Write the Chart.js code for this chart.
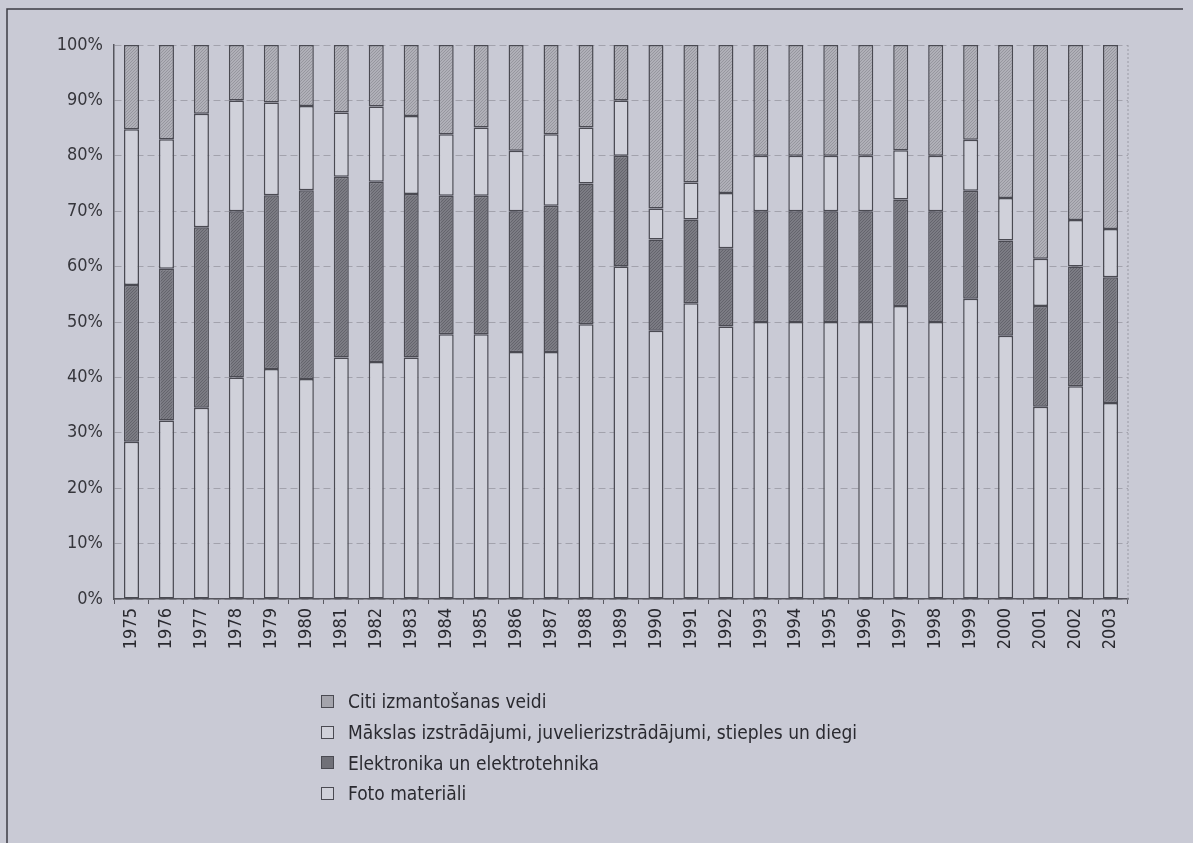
<!DOCTYPE html>
<html>
<head>
<meta charset="utf-8">
<script src="https://cdn.jsdelivr.net/npm/chart.js@4/dist/chart.umd.min.js"></script>
<style>
  body { margin: 0; background: #c9cad5; }
  #wrap { position: relative; width: 1193px; height: 843px; overflow: hidden; }
  #legend { position: absolute; left: 321px; top: 686px; font-family: 'Liberation Sans Narrow', 'DejaVu Sans Condensed', sans-serif; font-size: 19px; color: #2a2a30; }
  .row { height: 30.7px; display: flex; align-items: center; }
  .box { width: 11px; height: 11px; border: 1.5px solid #4a4a52; margin-right: 14px; }
</style>
</head>
<body>
<div id="wrap">
  <canvas id="chart" width="1193" height="843"></canvas>
  <div id="legend"></div>
</div>
<script>
// Years on the x axis
const years = ['1975', '1976', '1977', '1978', '1979', '1980', '1981', '1982', '1983', '1984',
  '1985', '1986', '1987', '1988', '1989', '1990', '1991', '1992', '1993', '1994',
  '1995', '1996', '1997', '1998', '1999', '2000', '2001', '2002', '2003'];

// Shares in percent, bottom of the stack first
const foto = [28.4, 32.2, 34.5, 40, 41.5, 39.7, 43.6, 42.8, 43.6, 47.8,
  47.8, 44.6, 44.6, 49.6, 60, 48.4, 53.4, 49.2, 50, 50,
  50, 50, 52.9, 50, 54.2, 47.5, 34.7, 38.4, 35.4];
const elektronika = [28.3, 27.4, 32.6, 30, 31.4, 34.1, 32.6, 32.5, 29.5, 25,
  25, 25.4, 26.4, 25.4, 20, 16.5, 15.1, 14.1, 20, 20,
  20, 20, 19.2, 20, 19.5, 17.2, 18.2, 21.6, 22.7];
const maksla = [28.1, 23.4, 20.5, 20, 16.7, 15.2, 11.6, 13.6, 14.1, 11.1,
  12.3, 10.9, 12.9, 10.1, 10, 5.6, 6.7, 10, 10, 10,
  10, 10, 8.9, 10, 9.2, 7.7, 8.5, 8.4, 8.7];
const citi = [15.2, 17.0, 12.4, 10, 10.4, 11.0, 12.2, 11.1, 12.8, 16.1,
  14.9, 19.1, 16.1, 14.9, 10, 29.5, 24.8, 26.7, 20, 20,
  20, 20, 19.0, 20, 17.1, 27.6, 38.6, 31.6, 33.2];

const yTicks = [0, 10, 20, 30, 40, 50, 60, 70, 80, 90, 100];

const FONT = "'Liberation Sans Narrow', 'DejaVu Sans Condensed', sans-serif";
const EDGE = '#4a4a52';

// Small stipple tile so the grey fills look like the printed screen
function stipple(a, b) {
  const c = document.createElement('canvas');
  c.width = 3; c.height = 3;
  const g = c.getContext('2d');
  g.fillStyle = a; g.fillRect(0, 0, 3, 3);
  g.fillStyle = b;
  g.fillRect(0, 0, 1, 1); g.fillRect(2, 1, 1, 1); g.fillRect(1, 2, 1, 1);
  return g.createPattern(c, 'repeat');
}

const ctx = document.getElementById('chart').getContext('2d');
const citiFill = stipple('#b0b0b8', '#96969e');
const elekFill = stipple('#7c7c84', '#64646c');
const lightFill = '#d0d1da';

// Page background, frame and dotted right edge of the plot
const frame = {
  id: 'frame',
  beforeDraw(chart) {
    const c = chart.ctx;
    c.save();
    c.fillStyle = '#c9cad5';
    c.fillRect(0, 0, chart.width, chart.height);
    c.strokeStyle = '#3c3c44';
    c.lineWidth = 1.5;
    c.beginPath();
    c.moveTo(7, 843); c.lineTo(7, 9); c.lineTo(1183, 9);
    c.stroke();
    c.restore();
  },
  afterDatasetsDraw(chart) {
    const a = chart.chartArea;
    const c = chart.ctx;
    c.save();
    c.strokeStyle = '#9a9aa4';
    c.setLineDash([2, 2]);
    c.lineWidth = 1;
    c.beginPath();
    c.moveTo(a.right, a.top); c.lineTo(a.right, a.bottom);
    c.stroke();
    c.restore();
  }
};

const bar = { barPercentage: 0.43, categoryPercentage: 1, borderColor: EDGE, borderWidth: 1.5, borderSkipped: false };

const chart = new Chart(ctx, {
  type: 'bar',
  data: {
    labels: years,
    datasets: [
      { label: 'Foto materiāli', data: foto, backgroundColor: lightFill, ...bar },
      { label: 'Elektronika un elektrotehnika', data: elektronika, backgroundColor: elekFill, ...bar },
      { label: 'Mākslas izstrādājumi, juvelierizstrādājumi, stieples un diegi', data: maksla, backgroundColor: lightFill, ...bar },
      { label: 'Citi izmantošanas veidi', data: citi, backgroundColor: citiFill, ...bar },
    ],
  },
  options: {
    responsive: false,
    animation: false,
    layout: { padding: { top: 45, right: 65, left: 0, bottom: 0 } },
    plugins: { legend: { display: false }, tooltip: { enabled: false } },
    scales: {
      x: {
        stacked: true,
        afterFit: (s) => { s.height = 244; },
        grid: { drawOnChartArea: false, drawTicks: true, tickLength: 5, color: '#5a5a62', offset: true },
        border: { color: '#55555d', width: 1.5 },
        ticks: { minRotation: 90, maxRotation: 90, padding: 4, color: '#2a2a30', font: { family: FONT, size: 18 } },
      },
      y: {
        stacked: true,
        min: 0,
        max: 100,
        afterFit: (s) => { s.width = 114; },
        afterBuildTicks: (s) => { s.ticks = yTicks.map((v) => ({ value: v })); },
        grid: { color: '#a2a2ac', lineWidth: 1, drawTicks: false },
        border: { color: '#55555d', width: 1.5, dash: [7, 4] },
        ticks: { padding: 11, color: '#36363c', font: { family: FONT, size: 18 }, callback: (v) => v + '%' },
      },
    },
  },
  plugins: [frame],
});

// Vertical legend, top of the stack first
const legend = document.getElementById('legend');
chart.data.datasets.slice().reverse().forEach((ds, i) => {
  const row = document.createElement('div');
  row.className = 'row';
  const box = document.createElement('div');
  box.className = 'box';
  box.style.background = i === 0 ? '#a4a4ac' : i === 2 ? '#707078' : lightFill;
  const text = document.createElement('span');
  text.textContent = ds.label;
  row.append(box, text);
  legend.appendChild(row);
});
</script>
</body>
</html>
